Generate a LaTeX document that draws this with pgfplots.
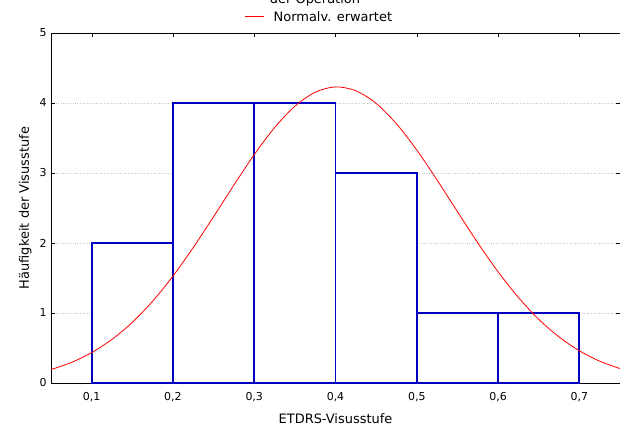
\documentclass[border=0pt]{standalone}
\usepackage{pgfplots}
\pgfplotsset{compat=1.18}
\usepackage{fontspec}
\setmainfont{DejaVu Sans}
\definecolor{barblue}{RGB}{0,0,190}
\begin{document}
\begin{tikzpicture}
\begin{axis}[name=ax,scale only axis,width=569bp,height=350bp,
  xmin=0.05,xmax=0.75,ymin=0,ymax=5,
  xtick={0.1,0.2,0.3,0.4,0.5,0.6,0.7},ytick={0,1,2,3,4,5},
  /pgf/number format/use comma,
  /pgf/number format/assume math mode=true,
  ticklabel style={font=\fontsize{11}{13}\selectfont},
  label style={font=\fontsize{13}{15}\selectfont},
  xticklabel style={yshift=-6bp},
  yticklabel style={xshift=-1bp},
  xlabel={ETDRS-Visusstufe},ylabel={Häufigkeit der Visusstufe},
  xlabel style={yshift=-5bp},ylabel style={yshift=1bp},
  ymajorgrids,grid style={gray!45,dotted},
  tick style={black,major tick length=4bp},
  axis line style={black,line width=0.8bp},
  clip=false]
\addplot[ybar,bar width=0.1,bar shift=0,draw=barblue,line width=1.8bp,fill=white] coordinates
 {(0.15,2)(0.25,4)(0.35,4)(0.45,3)(0.55,1)(0.65,1)};
\addplot[red,line width=0.8bp,smooth] coordinates {
 (0.05,0.192)(0.075,0.293)(0.1,0.434)(0.125,0.623)(0.15,0.866)(0.175,1.168)
 (0.2,1.527)(0.225,1.935)(0.25,2.376)(0.275,2.827)(0.3,3.262)(0.325,3.648)
 (0.35,3.954)(0.375,4.154)(0.4,4.23)(0.425,4.175)(0.45,3.994)(0.475,3.703)
 (0.5,3.328)(0.525,2.899)(0.55,2.448)(0.575,2.003)(0.6,1.589)(0.625,1.222)
 (0.65,0.910)(0.675,0.658)(0.7,0.460)(0.725,0.312)(0.75,0.206)};
\end{axis}
\node[font=\fontsize{13}{15}\selectfont] at ([xshift=264bp,yshift=33bp]ax.north west) {der Operation};
\draw[red,line width=0.8bp] ([xshift=194bp,yshift=16.5bp]ax.north west) -- ++(19bp,0)
 node[right=6bp,black,font=\fontsize{13}{15}\selectfont]{Normalv. erwartet};
\pgfresetboundingbox
\path ([xshift=-51bp,yshift=-44bp]ax.south west) rectangle ([yshift=33bp]ax.north east);
\end{tikzpicture}
\end{document}
